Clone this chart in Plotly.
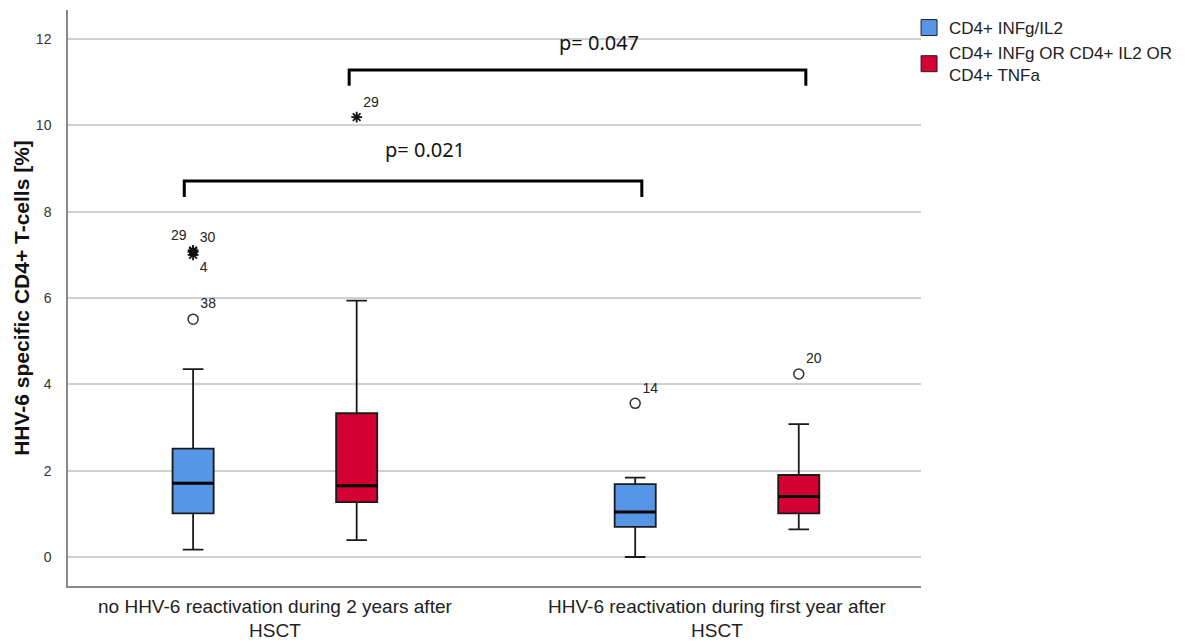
import plotly.graph_objects as go

# ---- data ----
group_labels = ["no HHV-6 reactivation during 2 years after<br>HSCT",
                "HHV-6 reactivation during first year after<br>HSCT"]
group_pos = [0, 1]
series_names = ["CD4+ INFg/IL2", "CD4+ INFg OR CD4+ IL2 OR<br>CD4+ TNFa"]
series_colors = ["#5596E6", "#D50032"]
series_offset = [-0.185, 0.185]

# five-number summaries per series, per group
lower_whisker = [[0.17, 0.00], [0.39, 0.64]]
q1 = [[1.01, 0.70], [1.27, 1.01]]
median = [[1.71, 1.04], [1.65, 1.40]]
q3 = [[2.51, 1.69], [3.33, 1.90]]
upper_whisker = [[4.35, 1.84], [5.94, 3.08]]

# outliers: (series, group, value, label, symbol, label position)
outlier_series = [0, 0, 0, 0, 1, 0, 1]
outlier_group = [0, 0, 0, 0, 0, 1, 1]
outlier_value = [5.51, 7.10, 7.07, 7.00, 10.19, 3.56, 4.24]
outlier_label = ["38", "29", "30", "4", "29", "14", "20"]
outlier_kind = ["circle", "star", "star", "star", "star", "circle", "circle"]
outlier_textpos = ["top right", "top left", "top right", "bottom right",
                   "top right", "top right", "top right"]

# significance brackets
bracket_x0 = [-0.205, 0.168]
bracket_x1 = [0.830, 1.201]
bracket_y = [8.71, 11.28]
bracket_drop = [0.37, 0.36]
bracket_text = ["p= 0.021", "p= 0.047"]
bracket_text_x = [0.339, 0.733]
bracket_text_y = [9.45, 11.93]

y_ticks = [0, 2, 4, 6, 8, 10, 12]

box_width = 0.093

fig = go.Figure()

for s in range(2):
    for g in range(2):
        xc = group_pos[g] + series_offset[s]
        fig.add_trace(go.Box(
            x=[xc], q1=[q1[s][g]], median=[median[s][g]], q3=[q3[s][g]],
            lowerfence=[lower_whisker[s][g]], upperfence=[upper_whisker[s][g]],
            width=box_width, whiskerwidth=0.5,
            fillcolor=series_colors[s], line=dict(color="#1a1a1a", width=1.8),
            boxpoints=False, showlegend=False, hoverinfo="skip"))
        # thick median line
        fig.add_trace(go.Scatter(
            x=[xc - box_width / 2, xc + box_width / 2],
            y=[median[s][g], median[s][g]], mode="lines",
            line=dict(color="black", width=3), showlegend=False, hoverinfo="skip"))

# outliers
for i in range(len(outlier_value)):
    xc = group_pos[outlier_group[i]] + series_offset[outlier_series[i]]
    if outlier_kind[i] == "circle":
        marker = dict(symbol="circle-open", size=10, color="#333", line=dict(width=1.5))
    else:
        marker = dict(symbol="asterisk-open", size=9, color="#111", line=dict(width=1.8))
    fig.add_trace(go.Scatter(
        x=[xc], y=[outlier_value[i]], mode="markers+text",
        marker=marker, text=[outlier_label[i]], textposition=outlier_textpos[i],
        textfont=dict(size=14, color="#222", family="Liberation Sans"),
        showlegend=False, hoverinfo="skip"))

# legend entries
for s in range(2):
    fig.add_trace(go.Scatter(
        x=[None], y=[None], mode="markers", name=series_names[s],
        marker=dict(symbol="square", size=16, color=series_colors[s],
                    line=dict(color="#222", width=1))))

# brackets
for b in range(len(bracket_text)):
    fig.add_trace(go.Scatter(
        x=[bracket_x0[b], bracket_x0[b], bracket_x1[b], bracket_x1[b]],
        y=[bracket_y[b] - bracket_drop[b], bracket_y[b], bracket_y[b],
           bracket_y[b] - bracket_drop[b]],
        mode="lines", line=dict(color="black", width=3),
        showlegend=False, hoverinfo="skip"))
    fig.add_annotation(
        x=bracket_text_x[b], y=bracket_text_y[b],
        text=bracket_text[b], showarrow=False,
        font=dict(size=20, color="#111", family="Noto Sans"))

fig.update_layout(
    width=1197, height=641,
    margin=dict(l=68, r=276, t=10, b=55, autoexpand=False),
    paper_bgcolor="white", plot_bgcolor="white",
    font=dict(family="Liberation Sans", color="#222"),
    legend=dict(x=0.986, y=1.0, xanchor="left", yanchor="top",
                font=dict(size=17, color="#222"), tracegroupgap=2,
                itemwidth=30, bgcolor="rgba(0,0,0,0)"),
)
fig.update_xaxes(
    range=[-0.468, 1.4615], tickvals=group_pos, ticktext=group_labels,
    showgrid=False, zeroline=False, showline=True, linecolor="#888", linewidth=1.5,
    ticks="", automargin=False, ticklabelstandoff=2,
    tickfont=dict(size=19, family="Liberation Sans", color="#222"))
fig.update_yaxes(
    range=[-0.672, 12.672], tickvals=y_ticks, ticktext=[str(t) for t in y_ticks],
    showgrid=True, gridcolor="#d0d0d0", gridwidth=1.5, zeroline=False,
    showline=True, linecolor="#888", linewidth=1.5, ticks="", automargin=False,
    ticklabelstandoff=12,
    tickfont=dict(size=14, color="#333"),
    title=dict(text="<b>HHV-6 specific CD4+ T-cells [%]</b>",
               font=dict(size=21, color="#111"), standoff=1))

fig.write_html("out.html")
